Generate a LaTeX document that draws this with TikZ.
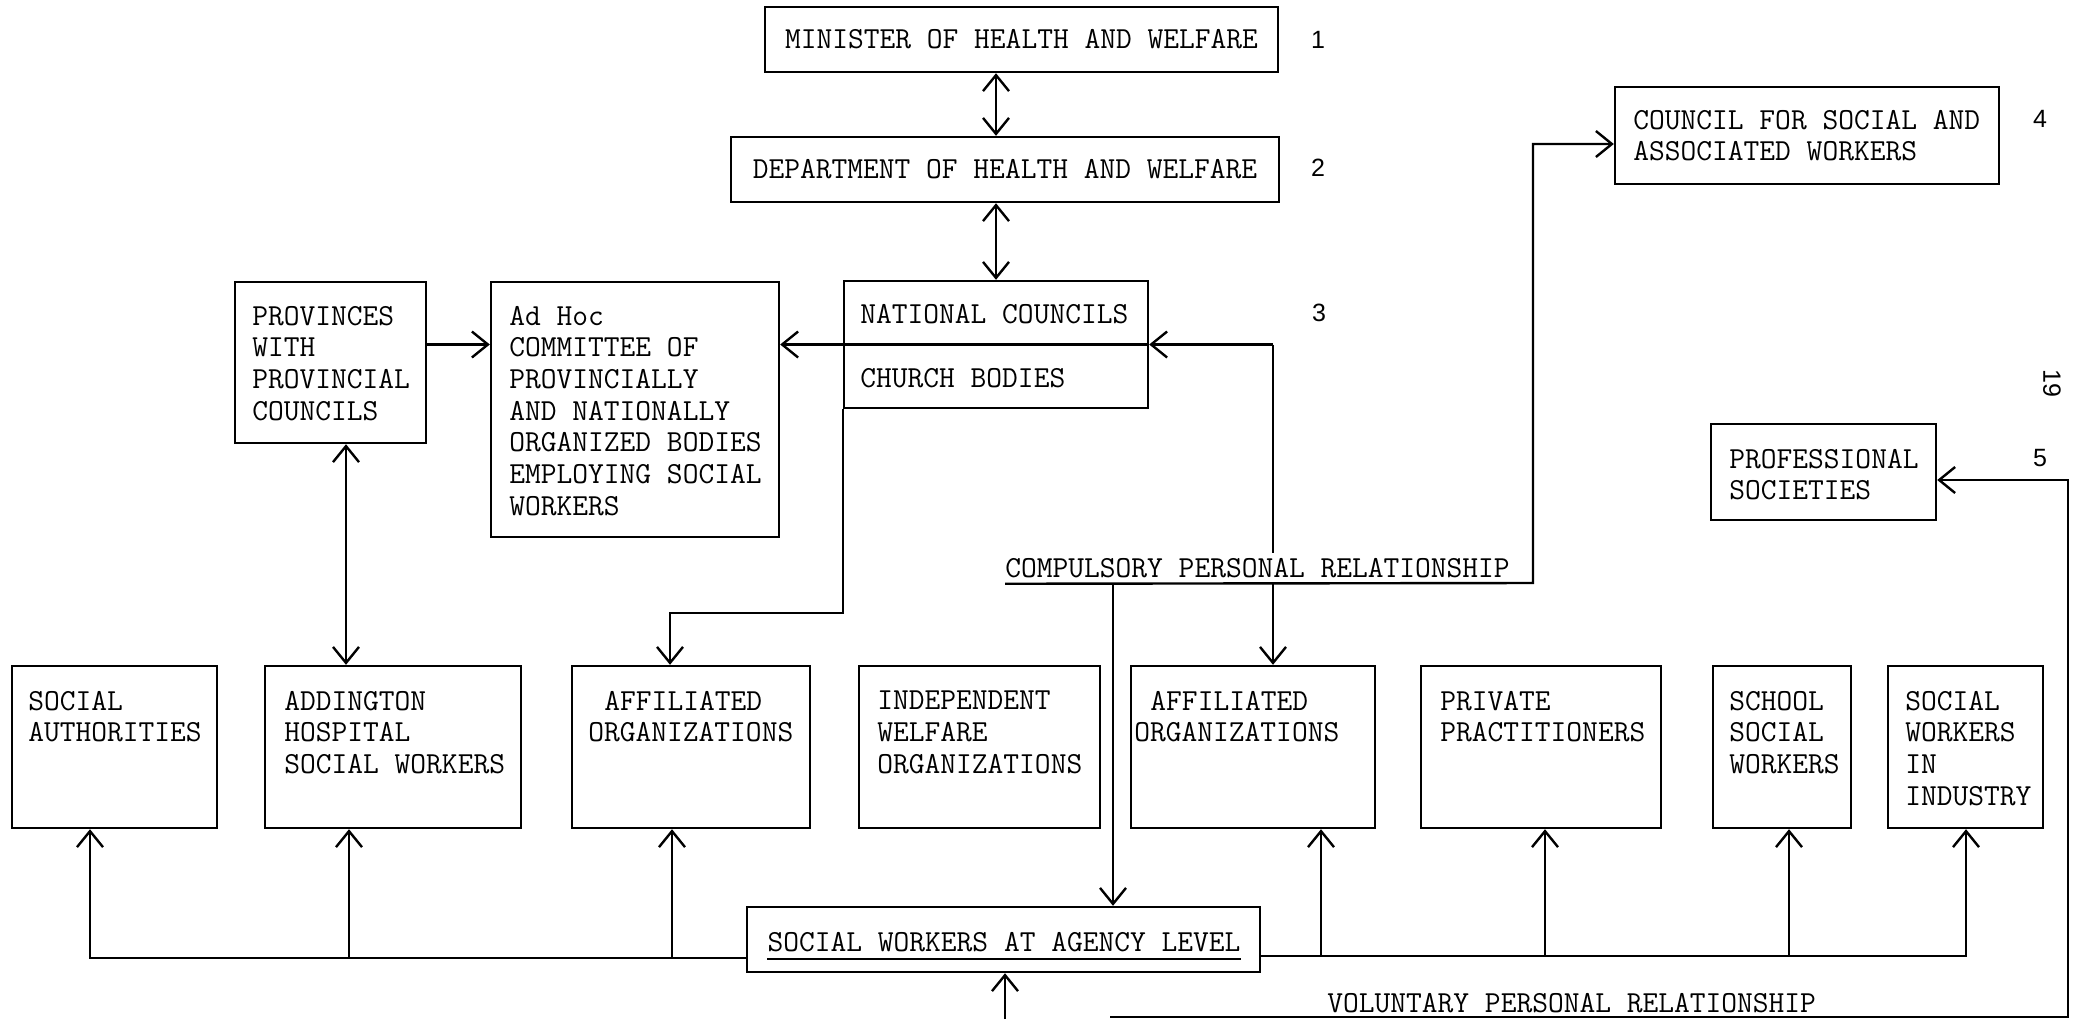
\documentclass[tikz,border=0pt]{standalone}
\usepackage{fontspec}
\newfontfamily\numfont{Liberation Sans}
\usetikzlibrary{arrows.meta,fit}
\begin{document}
\begin{tikzpicture}[x=0.5pt,y=-0.5pt,
  box/.style={draw, line width=1.2pt, inner sep=0pt},
  txt/.style={font=\ttfamily\fontsize{15.3}{15.85}\selectfont, inner sep=0pt, align=left, anchor=north west},
  num/.style={font=\numfont\fontsize{12.5}{14}\selectfont, inner sep=0pt},
  conn/.style={line width=1.2pt},
  arr/.style={conn, -{Straight Barb[length=8pt,width=13pt]}},
  dbl/.style={conn, {Straight Barb[length=8pt,width=13pt]}-{Straight Barb[length=8pt,width=13pt]}},
]
\useasboundingbox (0,0) rectangle (2078,1019);

% boxes
\node[box, fit={(765,7) (1278,72)}] (min) {};
\node[box, fit={(731,137) (1279,202)}] (dep) {};
\node[box, fit={(1615,87) (1999,184)}] (council) {};
\node[box, fit={(844,281) (1148,408)}] (nat) {};
\node[box, fit={(235,282) (426,443)}] (prov) {};
\node[box, fit={(491,282) (779,537)}] (adhoc) {};
\node[box, fit={(1711,424) (1936,520)}] (prof) {};
\node[box, fit={(12,666) (217,828)}] (sa) {};
\node[box, fit={(265,666) (521,828)}] (add) {};
\node[box, fit={(572,666) (810,828)}] (aff1) {};
\node[box, fit={(859,666) (1100,828)}] (ind) {};
\node[box, fit={(1131,666) (1375,828)}] (aff2) {};
\node[box, fit={(1421,666) (1661,828)}] (priv) {};
\node[box, fit={(1713,666) (1851,828)}] (school) {};
\node[box, fit={(1888,666) (2043,828)}] (indus) {};
\node[box, fit={(747,907) (1260,972)}] (agency) {};
\draw[box] (nat.west) -- (nat.east);

% texts
\node[txt, anchor=center] (minT) at (min.center) {MINISTER OF HEALTH AND WELFARE};
\node[txt, anchor=center] (depT) at (dep.center) {DEPARTMENT OF HEALTH AND WELFARE};
\node[txt] (councilT) at (1633,109.65) {COUNCIL FOR SOCIAL AND\\ASSOCIATED WORKERS};
\node[txt] (natT) at (860,303.65) {NATIONAL COUNCILS};
\node[txt] (churchT) at (860,367.65) {CHURCH BODIES};
\node[txt] (provT) at (252,305.65) {PROVINCES\\WITH\\PROVINCIAL\\COUNCILS};
\node[txt] (adhocT) at (509,305.65) {Ad Hoc\\COMMITTEE OF\\PROVINCIALLY\\AND NATIONALLY\\ORGANIZED BODIES\\EMPLOYING SOCIAL\\WORKERS};
\node[txt] (profT) at (1729,448.65) {PROFESSIONAL\\SOCIETIES};
\node[txt] (saT) at (28,690.65) {SOCIAL\\AUTHORITIES};
\node[txt] (addT) at (284,690.65) {ADDINGTON\\HOSPITAL\\SOCIAL WORKERS};
\node[txt] (aff1T) at (588,690.65) {\hspace*{0.525em}AFFILIATED\\ORGANIZATIONS};
\node[txt] (indT) at (877,690.65) {INDEPENDENT\\WELFARE\\ORGANIZATIONS};
\node[txt] (aff2T) at (1134,690.65) {\hspace*{0.525em}AFFILIATED\\ORGANIZATIONS};
\node[txt] (privT) at (1440,690.65) {PRIVATE\\PRACTITIONERS};
\node[txt] (schoolT) at (1729,690.65) {SCHOOL\\SOCIAL\\WORKERS};
\node[txt] (indusT) at (1905,690.65) {SOCIAL\\WORKERS\\IN\\INDUSTRY};
\node[txt, anchor=center, inner ysep=3.5pt] (agT) at (1004,942) {SOCIAL WORKERS AT AGENCY LEVEL};
\draw[line width=1pt] (agT.south west) -- (agT.south east);

% numbers
\node[num] (n1) at (1318,40) {1};
\node[num] (n2) at (1318,168) {2};
\node[num] (n3) at (1319,313) {3};
\node[num] (n4) at (2040,119) {4};
\node[num] (n5) at (2040,458) {5};
\node[num, rotate=-90] (n19) at (2052,383) {19};

% upper connectors
\draw[dbl] (min.south -| nat.north) -- (dep.north -| nat.north);
\draw[dbl] (dep.south -| nat.north) -- (nat.north);
\draw[arr] (prov.east |- nat.west) -- (adhoc.west |- nat.west);
\draw[arr] (nat.west) -- (adhoc.east |- nat.west);
\coordinate (r1) at (1273,344.5);
\draw[arr] (r1) -- (nat.east);
\draw[arr] (r1) -- (r1 |- aff2.north);
\coordinate (a1) at (670,613);
\draw[arr] (nat.south west) |- (a1) -- (a1 |- aff1.north);
\coordinate (pv) at (346,0);
\draw[dbl] (prov.south -| pv) -- (add.north -| pv);

% compulsory relationship
\node[txt, anchor=west, fill=white, inner ysep=2.8pt] (comp) at (1005,568) {COMPULSORY PERSONAL RELATIONSHIP};
\coordinate (c1) at (1533,583);
\coordinate (c2) at (1533,144);
\draw[arr] (comp.south west) -- (c1) -- (c2) -- (c2 -| council.west);
\coordinate (c3) at (1113,583);
\draw[arr] (c3) -- (c3 |- agency.north);

% bottom buses
\coordinate (bl) at (747,958);
\coordinate (b1) at (90,958);
\coordinate (b2) at (349,958);
\coordinate (b3) at (672,958);
\draw[arr] (bl) -| (b1 |- sa.south);
\draw[arr] (b2) -- (b2 |- add.south);
\draw[arr] (b3) -- (b3 |- aff1.south);
\coordinate (br) at (1260,956);
\coordinate (b4) at (1321,956);
\coordinate (b5) at (1545,956);
\coordinate (b6) at (1789,956);
\coordinate (b7) at (1966,956);
\draw[arr] (br) -| (b7 |- indus.south);
\draw[arr] (b4) -- (b4 |- aff2.south);
\draw[arr] (b5) -- (b5 |- priv.south);
\draw[arr] (b6) -- (b6 |- school.south);

% voluntary relationship
\node[txt, anchor=west] (vol) at (1327,1003) {VOLUNTARY PERSONAL RELATIONSHIP};
\coordinate (v1) at (1110,1017);
\coordinate (v2) at (2068,1017);
\coordinate (v3) at (2068,480);
\draw[arr] (v1) -- (v2) -- (v3) -- (v3 -| prof.east);
\coordinate (v0) at (1005,1019);
\draw[arr] (v0) -- (v0 |- agency.south);
\end{tikzpicture}
\end{document}
